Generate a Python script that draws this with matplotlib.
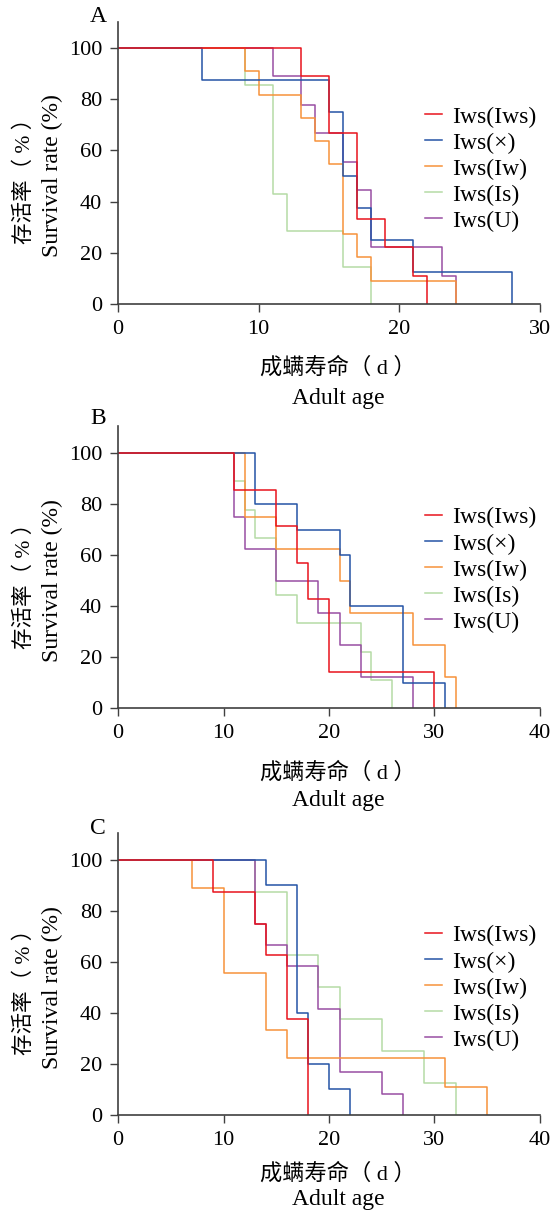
import matplotlib
matplotlib.use("Agg")
import matplotlib.pyplot as plt
import matplotlib.transforms as mtransforms

plt.rcParams['font.family'] = ['Liberation Serif', 'Noto Sans CJK SC', 'DejaVu Sans']

# ------------------ data (survival %, step after each day) ------------------
groups = ['Iws(Iws)', 'Iws(×)', 'Iws(Iw)', 'Iws(Is)', 'Iws(U)']
colors = ['#e8141c', '#2454a6', '#f7923a', '#b5dba6', '#984ea3']

# panel A
a_days = [
    [0, 13, 15, 17, 19, 21, 22],
    [0, 6, 15, 16, 17, 18, 21, 28],
    [0, 9, 10, 13, 14, 15, 16, 17, 18, 24],
    [0, 9, 11, 12, 16, 18],
    [0, 11, 13, 14, 16, 17, 18, 23, 24],
]
a_surv = [
    [100, 88.9, 66.7, 33.3, 22.2, 11.1, 0],
    [100, 87.5, 75, 50, 37.5, 25, 12.5, 0],
    [100, 90.9, 81.8, 72.7, 63.6, 54.5, 27.3, 18.2, 9.1, 0],
    [100, 85.7, 42.9, 28.6, 14.3, 0],
    [100, 88.9, 77.8, 66.7, 55.6, 44.4, 22.2, 11.1, 0],
]

# panel B
b_days = [
    [0, 11, 15, 17, 18, 20, 30],
    [0, 13, 17, 21, 22, 27, 31],
    [0, 12, 15, 21, 22, 28, 31, 32],
    [0, 11, 12, 13, 15, 17, 23, 24, 26],
    [0, 11, 12, 15, 19, 21, 23, 28],
]
b_surv = [
    [100, 85.7, 71.4, 57.1, 42.9, 14.3, 0],
    [100, 80, 70, 60, 40, 10, 0],
    [100, 75, 62.5, 50, 37.5, 25, 12.5, 0],
    [100, 88.9, 77.8, 66.7, 44.4, 33.3, 22.2, 11.1, 0],
    [100, 75, 62.5, 50, 37.5, 25, 12.5, 0],
]

# panel C
c_days = [
    [0, 9, 13, 14, 16, 18],
    [0, 14, 17, 18, 20, 22],
    [0, 7, 10, 14, 16, 31, 35],
    [0, 13, 16, 19, 21, 25, 29, 32],
    [0, 13, 14, 16, 19, 21, 25, 27],
]
c_surv = [
    [100, 87.5, 75, 62.5, 37.5, 0],
    [100, 90, 40, 20, 10, 0],
    [100, 88.9, 55.6, 33.3, 22.2, 11.1, 0],
    [100, 87.5, 62.5, 50, 37.5, 25, 12.5, 0],
    [100, 75, 66.7, 58.3, 41.7, 16.7, 8.3, 0],
]

panels = [
    ('A', a_days, a_surv, 30, [0.2111, 0.7490, 0.7549, 0.2331], 110.3, 0.701, -0.2267, -0.3365),
    ('B', b_days, b_surv, 40, [0.2111, 0.4150, 0.7549, 0.2333], 110.6, 0.713, -0.2290, -0.327),
    ('C', c_days, c_surv, 40, [0.2111, 0.0793, 0.7549, 0.2331], 110.6, 0.673, -0.209, -0.300),
]
letter_y = [17, 418, 828]

fig = plt.figure(figsize=(5.59, 12.11), dpi=100)

for (letter, days, surv, xmax, pos, ytop, leg_y, cn_y, en_y), ly in zip(panels, letter_y):
    ax = fig.add_axes(pos)
    lines = []
    for i in [3, 4, 2, 1, 0]:
        ln, = ax.step(days[i], surv[i], where='post', color=colors[i], lw=1.1)
        lines.append((i, ln))
    lines.sort()
    ax.set_xlim(0, xmax)
    ax.set_ylim(0, ytop)
    ax.set_xticks(range(0, xmax + 1, 10))
    ax.set_yticks(range(0, 101, 20))
    for s in ['top', 'right']:
        ax.spines[s].set_visible(False)
    for s in ['left', 'bottom']:
        ax.spines[s].set_color('#404040')
        ax.spines[s].set_linewidth(1.2)
    ax.tick_params(direction='out', length=5.5, width=1, color='#404040',
                   labelsize=16, pad=6)

    ax.legend([l for _, l in lines], groups, loc='upper left',
              bbox_to_anchor=(0.7275, leg_y), frameon=False, fontsize=17,
              handlelength=0.7, handletextpad=0.45, labelspacing=0.19,
              borderpad=0, borderaxespad=0)

    tr = mtransforms.blended_transform_factory(ax.transAxes, ax.transData)
    ax.text(-0.2204, 50, '存活率（ % ）', rotation=90, ha='center', va='center',
            fontsize=15.5, transform=tr)
    ax.text(-0.1564, 50, 'Survival rate (%)', rotation=90, ha='center', va='center',
            fontsize=17, transform=tr)
    ax.text(0.521, cn_y, '成螨寿命（ d ）', ha='center', va='center',
            fontsize=16, transform=ax.transAxes)
    ax.text(0.521, en_y, 'Adult age', ha='center', va='center',
            fontsize=17, transform=ax.transAxes)

    fig.text(98 / 559, 1 - ly / 1211, letter, ha='center', va='center', fontsize=17)

fig.savefig('out.png', dpi=100)
